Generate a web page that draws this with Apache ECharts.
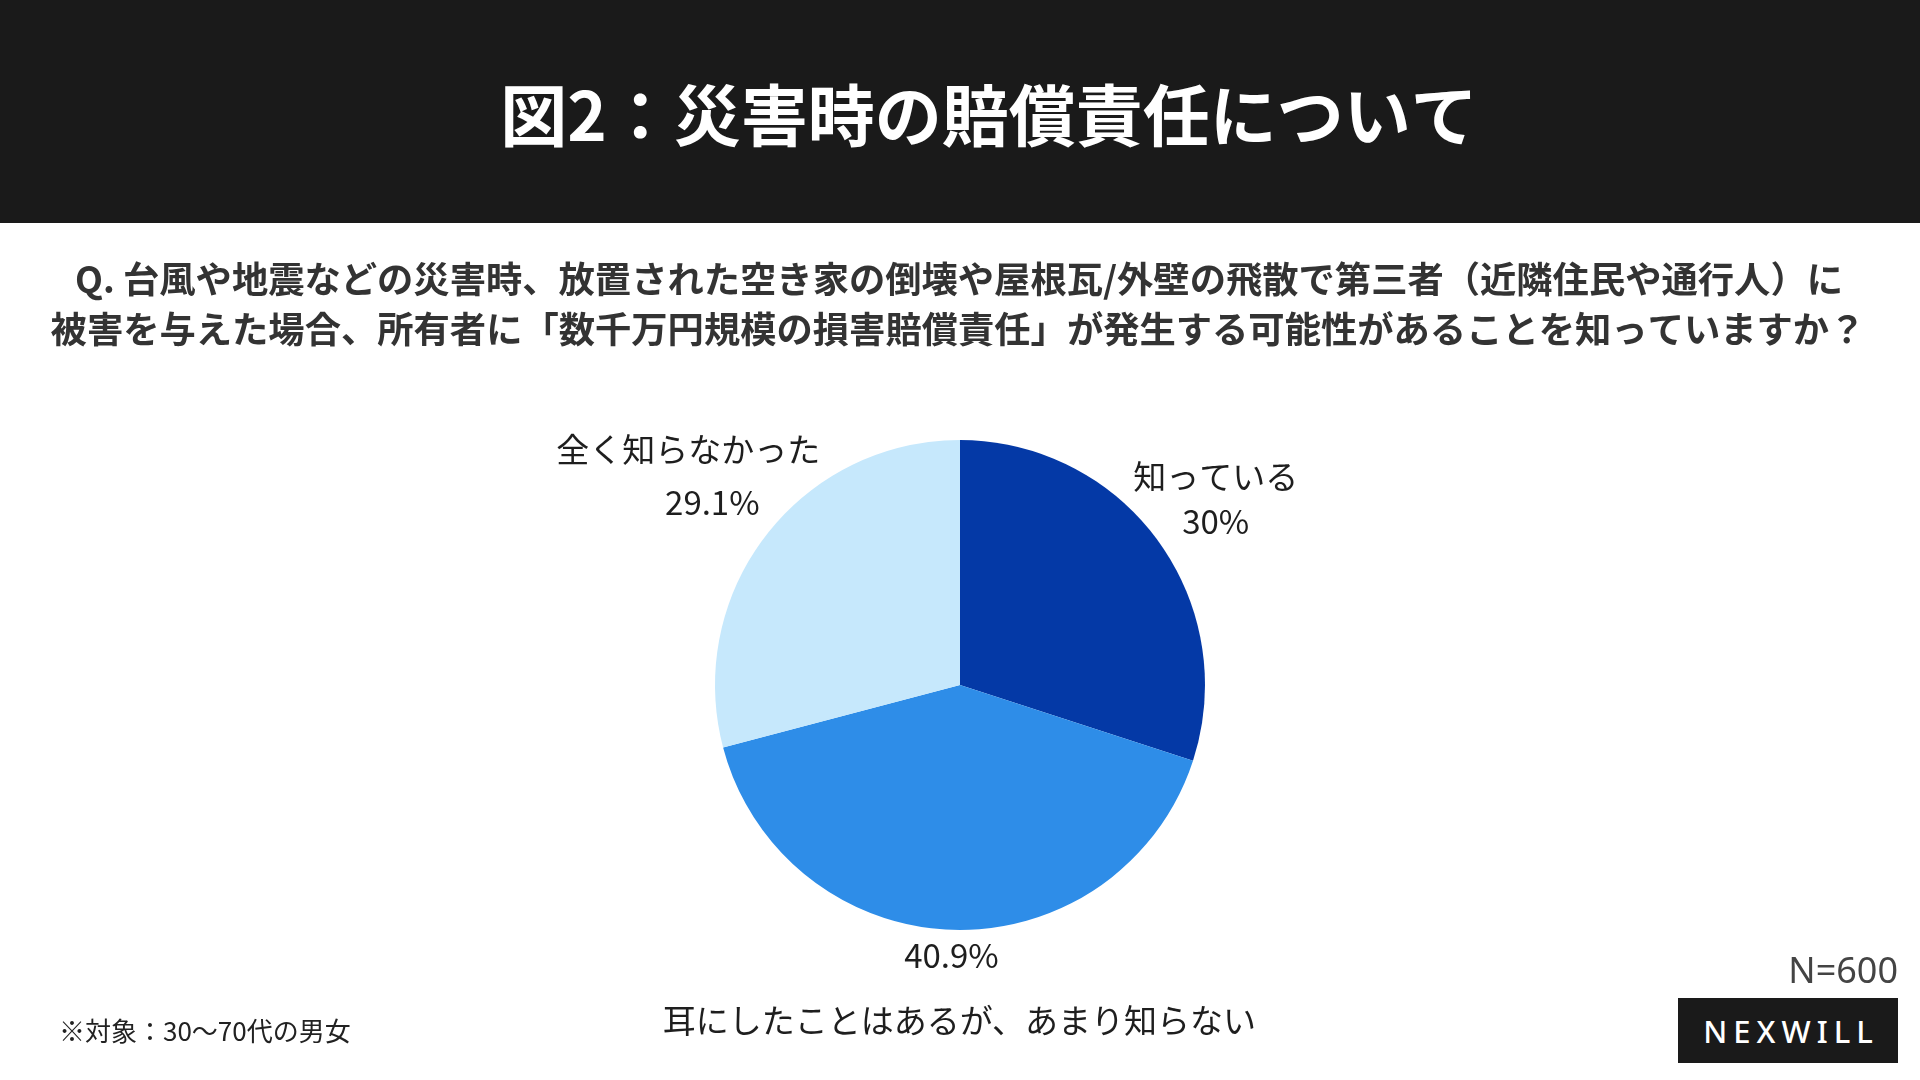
<!DOCTYPE html>
<html>
<head>
<meta charset="utf-8">
<script src="https://cdn.jsdelivr.net/npm/echarts@6/dist/echarts.min.js"></script>
<style>
html,body{margin:0;padding:0;background:#fff;}
#wrap{position:relative;width:1920px;height:1080px;}
#c{width:1920px;height:1080px;}
#logo{position:absolute;left:1678px;top:998px;width:220px;height:65px;background:#1a1a1a;color:#fff;
font-family:'Noto Sans','Noto Sans CJK JP',sans-serif;font-size:31px;font-weight:500;letter-spacing:6px;
display:flex;align-items:center;justify-content:center;padding-left:6px;box-sizing:border-box;}
</style>
</head>
<body>
<div id="wrap">
<div id="c"></div>
<div id="logo">NEXWILL</div>
</div>
<script>
// ---- data ----
const categories = ['知っている', '耳にしたことはあるが、あまり知らない', '全く知らなかった'];
const values = [30, 40.9, 29.1];
const titleText = '図2：災害時の賠償責任について';
const questionLines = [
  'Q. 台風や地震などの災害時、放置された空き家の倒壊や屋根瓦/外壁の飛散で第三者（近隣住民や通行人）に',
  '被害を与えた場合、所有者に「数千万円規模の損害賠償責任」が発生する可能性があることを知っていますか？'
];
const noteText = '※対象：30〜70代の男女';
const sampleText = 'N=600';

// ---- styles ----
const colors = ['#0439a6', '#2e8de8', '#c6e8fc'];
const FONT = '"Noto Sans CJK JP","Noto Sans",sans-serif';
const CX = 960, CY = 685, R = 245;
const labelGap = [71, 58, 98];
const richKeys = [['n', 'p'], ['nB', 'pB'], ['nL', 'pL']];

const total = values.reduce((a, b) => a + b, 0);
function midAngle(i) {
  let s = 0;
  for (let k = 0; k < i; k++) s += values[k];
  return (s + values[i] / 2) / total * 2 * Math.PI;
}

const chart = echarts.init(document.getElementById('c'));
const lbl = { fontFamily: FONT, fontSize: 33, color: '#1e1e1e' };

chart.setOption({
  backgroundColor: '#ffffff',
  animation: false,
  graphic: [
    { type: 'rect', shape: { x: 0, y: 0, width: 1920, height: 223 }, style: { fill: '#1a1a1a' }, silent: true },
    { type: 'text', x: 989, y: 116, style: { text: titleText, fill: '#ffffff', fontFamily: FONT, fontSize: 67, fontWeight: 'bold', align: 'center', verticalAlign: 'middle', textAlign: 'center', textVerticalAlign: 'middle' } },
    { type: 'text', x: 959, y: 279, style: { text: questionLines[0], fill: '#333333', fontFamily: FONT, fontSize: 36.3, fontWeight: 'bold', align: 'center', verticalAlign: 'middle', textAlign: 'center', textVerticalAlign: 'middle' } },
    { type: 'text', x: 958, y: 329, style: { text: questionLines[1], fill: '#333333', fontFamily: FONT, fontSize: 36.3, fontWeight: 'bold', align: 'center', verticalAlign: 'middle', textAlign: 'center', textVerticalAlign: 'middle' } },
    { type: 'text', x: 59, y: 1031, style: { text: noteText, fill: '#222222', fontFamily: FONT, fontSize: 26, align: 'left', verticalAlign: 'middle', textAlign: 'left', textVerticalAlign: 'middle' } },
    { type: 'text', x: 1898, y: 973, style: { text: sampleText, fill: '#444444', fontFamily: '"Noto Sans",sans-serif', fontSize: 36, align: 'right', verticalAlign: 'middle', textAlign: 'right', textVerticalAlign: 'middle' } }
  ],
  series: [{
    type: 'pie',
    center: [CX, CY],
    radius: R,
    startAngle: 90,
    clockwise: true,
    color: colors,
    itemStyle: { borderWidth: 0 },
    emphasis: { disabled: true },
    data: categories.map((c, i) => ({ name: c, value: values[i] })),
    labelLine: { show: false },
    label: {
      show: true,
      position: 'outside',
      formatter: function (p) {
        const k = richKeys[p.dataIndex];
        if (p.dataIndex === 1) return '{' + k[1] + '|' + p.value + '%}\n{' + k[0] + '|' + p.name + '}';
        return '{' + k[0] + '|' + p.name + '}\n{' + k[1] + '|' + p.value + '%}';
      },
      rich: {
        n: Object.assign({ lineHeight: 45 }, lbl),
        p: Object.assign({ lineHeight: 45 }, lbl),
        nB: Object.assign({ lineHeight: 65, padding: [0, 0, 0, 16] }, lbl),
        pB: Object.assign({ lineHeight: 65 }, lbl),
        nL: Object.assign({ lineHeight: 53 }, lbl),
        pL: Object.assign({ lineHeight: 53, padding: [0, 0, 0, 48] }, lbl)
      }
    },
    labelLayout: function (p) {
      const a = midAngle(p.dataIndex);
      const d = R + labelGap[p.dataIndex];
      return { x: CX + Math.sin(a) * d, y: CY - Math.cos(a) * d, align: 'center', verticalAlign: 'middle' };
    }
  }]
});
</script>
</body>
</html>
